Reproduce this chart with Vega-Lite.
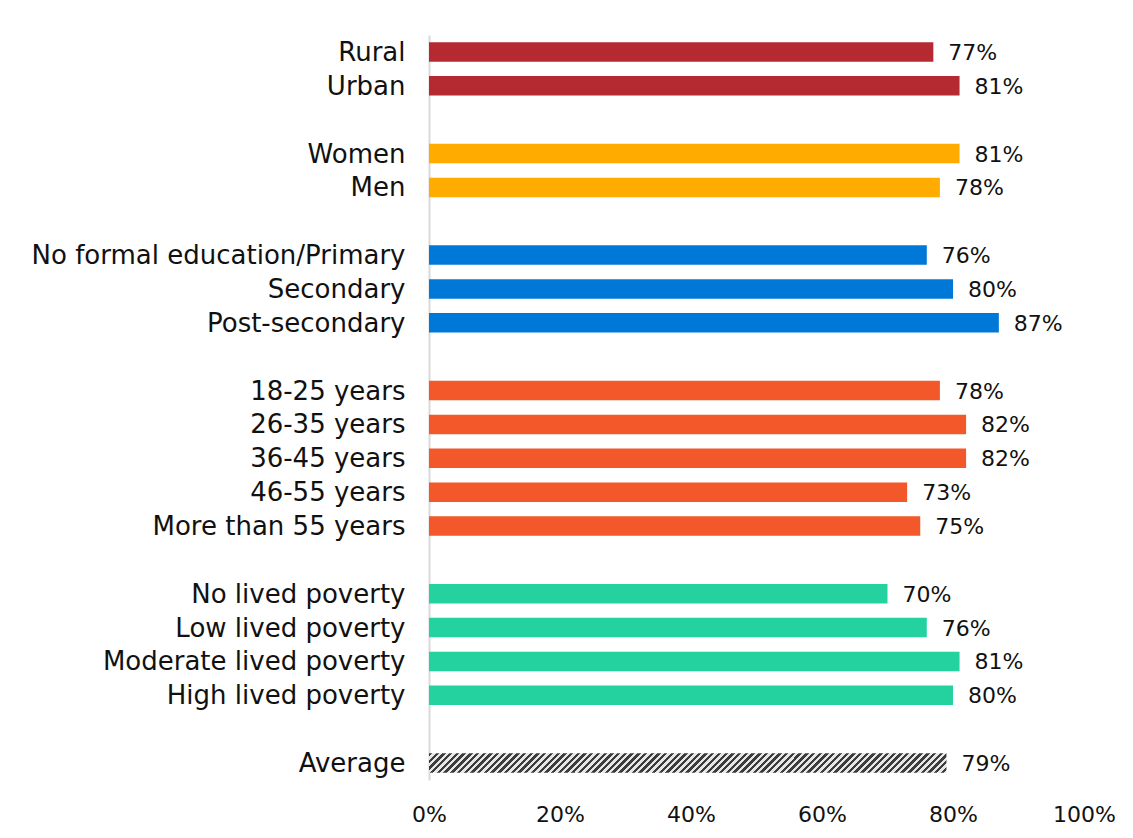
{
  "$schema": "https://vega.github.io/schema/vega-lite/v6.json",
  "width": 655,
  "height": 745,
  "autosize": {"type": "none"},
  "padding": {"left": 429, "top": 35, "right": 49, "bottom": 58},
  "background": "#ffffff",
  "config": {
    "view": {"stroke": null},
    "font": "DejaVu Sans"
  },
  "data": {
    "values": [
      {"label": "Rural", "group": "Location", "value": 0.77},
      {"label": "Urban", "group": "Location", "value": 0.81},
      {"label": "Women", "group": "Gender", "value": 0.81},
      {"label": "Men", "group": "Gender", "value": 0.78},
      {"label": "No formal education/Primary", "group": "Education", "value": 0.76},
      {"label": "Secondary", "group": "Education", "value": 0.80},
      {"label": "Post-secondary", "group": "Education", "value": 0.87},
      {"label": "18-25 years", "group": "Age", "value": 0.78},
      {"label": "26-35 years", "group": "Age", "value": 0.82},
      {"label": "36-45 years", "group": "Age", "value": 0.82},
      {"label": "46-55 years", "group": "Age", "value": 0.73},
      {"label": "More than 55 years", "group": "Age", "value": 0.75},
      {"label": "No lived poverty", "group": "Poverty", "value": 0.70},
      {"label": "Low lived poverty", "group": "Poverty", "value": 0.76},
      {"label": "Moderate lived poverty", "group": "Poverty", "value": 0.81},
      {"label": "High lived poverty", "group": "Poverty", "value": 0.80},
      {"label": "Average", "group": "Average", "value": 0.79}
    ]
  },
  "encoding": {
    "y": {
      "field": "label",
      "type": "nominal",
      "title": null,
      "scale": {
        "domain": ["Rural", "Urban", " ", "Women", "Men", "  ", "No formal education/Primary", "Secondary", "Post-secondary", "   ", "18-25 years", "26-35 years", "36-45 years", "46-55 years", "More than 55 years", "    ", "No lived poverty", "Low lived poverty", "Moderate lived poverty", "High lived poverty", "     ", "Average"],
        "paddingInner": 0.424,
        "paddingOuter": 0.212
      },
      "axis": {
        "ticks": false,
        "domainColor": "#d9d9d9",
        "domainWidth": 2,
        "labelFont": "DejaVu Sans",
        "labelFontSize": 26,
        "labelColor": "#111111",
        "labelPadding": 24,
        "labelLimit": 420,
        "labelOffset": 1
      }
    },
    "x": {
      "field": "value",
      "type": "quantitative",
      "title": null,
      "scale": {"domain": [0, 1], "nice": false},
      "axis": {
        "format": ".0%",
        "values": [0, 0.2, 0.4, 0.6, 0.8, 1],
        "domain": false,
        "ticks": false,
        "grid": false,
        "labelFont": "DejaVu Sans",
        "labelFontSize": 22,
        "labelColor": "#111111",
        "labelPadding": 24,
        "labelFlush": false
      }
    }
  },
  "layer": [
    {
      "transform": [{"filter": "datum.group !== 'Average'"}],
      "mark": {"type": "bar"},
      "encoding": {
        "color": {
          "field": "group",
          "type": "nominal",
          "legend": null,
          "scale": {
            "domain": ["Location", "Gender", "Education", "Age", "Poverty"],
            "range": ["#b42a30", "#ffab00", "#0078d7", "#f2582a", "#24d2a0"]
          }
        }
      }
    },
    {
      "transform": [{"filter": "datum.group === 'Average'"}],
      "mark": {
        "type": "bar",
        "color": {
          "gradient": "linear",
          "x1": 0, "y1": 0, "x2": 1.0377, "y2": 0.0391,
          "stops": [
            {"offset":0,"color":"#3c3c3c"},
            {"offset":0.00625,"color":"#3c3c3c"},{"offset":0.00625,"color":"#e6e6e6"},
            {"offset":0.0125,"color":"#e6e6e6"},{"offset":0.0125,"color":"#3c3c3c"},
            {"offset":0.01875,"color":"#3c3c3c"},{"offset":0.01875,"color":"#e6e6e6"},
            {"offset":0.025,"color":"#e6e6e6"},{"offset":0.025,"color":"#3c3c3c"},
            {"offset":0.03125,"color":"#3c3c3c"},{"offset":0.03125,"color":"#e6e6e6"},
            {"offset":0.0375,"color":"#e6e6e6"},{"offset":0.0375,"color":"#3c3c3c"},
            {"offset":0.04375,"color":"#3c3c3c"},{"offset":0.04375,"color":"#e6e6e6"},
            {"offset":0.05,"color":"#e6e6e6"},{"offset":0.05,"color":"#3c3c3c"},
            {"offset":0.05625,"color":"#3c3c3c"},{"offset":0.05625,"color":"#e6e6e6"},
            {"offset":0.0625,"color":"#e6e6e6"},{"offset":0.0625,"color":"#3c3c3c"},
            {"offset":0.06875,"color":"#3c3c3c"},{"offset":0.06875,"color":"#e6e6e6"},
            {"offset":0.075,"color":"#e6e6e6"},{"offset":0.075,"color":"#3c3c3c"},
            {"offset":0.08125,"color":"#3c3c3c"},{"offset":0.08125,"color":"#e6e6e6"},
            {"offset":0.0875,"color":"#e6e6e6"},{"offset":0.0875,"color":"#3c3c3c"},
            {"offset":0.09375,"color":"#3c3c3c"},{"offset":0.09375,"color":"#e6e6e6"},
            {"offset":0.1,"color":"#e6e6e6"},{"offset":0.1,"color":"#3c3c3c"},
            {"offset":0.10625,"color":"#3c3c3c"},{"offset":0.10625,"color":"#e6e6e6"},
            {"offset":0.1125,"color":"#e6e6e6"},{"offset":0.1125,"color":"#3c3c3c"},
            {"offset":0.11875,"color":"#3c3c3c"},{"offset":0.11875,"color":"#e6e6e6"},
            {"offset":0.125,"color":"#e6e6e6"},{"offset":0.125,"color":"#3c3c3c"},
            {"offset":0.13125,"color":"#3c3c3c"},{"offset":0.13125,"color":"#e6e6e6"},
            {"offset":0.1375,"color":"#e6e6e6"},{"offset":0.1375,"color":"#3c3c3c"},
            {"offset":0.14375,"color":"#3c3c3c"},{"offset":0.14375,"color":"#e6e6e6"},
            {"offset":0.15,"color":"#e6e6e6"},{"offset":0.15,"color":"#3c3c3c"},
            {"offset":0.15625,"color":"#3c3c3c"},{"offset":0.15625,"color":"#e6e6e6"},
            {"offset":0.1625,"color":"#e6e6e6"},{"offset":0.1625,"color":"#3c3c3c"},
            {"offset":0.16875,"color":"#3c3c3c"},{"offset":0.16875,"color":"#e6e6e6"},
            {"offset":0.175,"color":"#e6e6e6"},{"offset":0.175,"color":"#3c3c3c"},
            {"offset":0.18125,"color":"#3c3c3c"},{"offset":0.18125,"color":"#e6e6e6"},
            {"offset":0.1875,"color":"#e6e6e6"},{"offset":0.1875,"color":"#3c3c3c"},
            {"offset":0.19375,"color":"#3c3c3c"},{"offset":0.19375,"color":"#e6e6e6"},
            {"offset":0.2,"color":"#e6e6e6"},{"offset":0.2,"color":"#3c3c3c"},
            {"offset":0.20625,"color":"#3c3c3c"},{"offset":0.20625,"color":"#e6e6e6"},
            {"offset":0.2125,"color":"#e6e6e6"},{"offset":0.2125,"color":"#3c3c3c"},
            {"offset":0.21875,"color":"#3c3c3c"},{"offset":0.21875,"color":"#e6e6e6"},
            {"offset":0.225,"color":"#e6e6e6"},{"offset":0.225,"color":"#3c3c3c"},
            {"offset":0.23125,"color":"#3c3c3c"},{"offset":0.23125,"color":"#e6e6e6"},
            {"offset":0.2375,"color":"#e6e6e6"},{"offset":0.2375,"color":"#3c3c3c"},
            {"offset":0.24375,"color":"#3c3c3c"},{"offset":0.24375,"color":"#e6e6e6"},
            {"offset":0.25,"color":"#e6e6e6"},{"offset":0.25,"color":"#3c3c3c"},
            {"offset":0.25625,"color":"#3c3c3c"},{"offset":0.25625,"color":"#e6e6e6"},
            {"offset":0.2625,"color":"#e6e6e6"},{"offset":0.2625,"color":"#3c3c3c"},
            {"offset":0.26875,"color":"#3c3c3c"},{"offset":0.26875,"color":"#e6e6e6"},
            {"offset":0.275,"color":"#e6e6e6"},{"offset":0.275,"color":"#3c3c3c"},
            {"offset":0.28125,"color":"#3c3c3c"},{"offset":0.28125,"color":"#e6e6e6"},
            {"offset":0.2875,"color":"#e6e6e6"},{"offset":0.2875,"color":"#3c3c3c"},
            {"offset":0.29375,"color":"#3c3c3c"},{"offset":0.29375,"color":"#e6e6e6"},
            {"offset":0.3,"color":"#e6e6e6"},{"offset":0.3,"color":"#3c3c3c"},
            {"offset":0.30625,"color":"#3c3c3c"},{"offset":0.30625,"color":"#e6e6e6"},
            {"offset":0.3125,"color":"#e6e6e6"},{"offset":0.3125,"color":"#3c3c3c"},
            {"offset":0.31875,"color":"#3c3c3c"},{"offset":0.31875,"color":"#e6e6e6"},
            {"offset":0.325,"color":"#e6e6e6"},{"offset":0.325,"color":"#3c3c3c"},
            {"offset":0.33125,"color":"#3c3c3c"},{"offset":0.33125,"color":"#e6e6e6"},
            {"offset":0.3375,"color":"#e6e6e6"},{"offset":0.3375,"color":"#3c3c3c"},
            {"offset":0.34375,"color":"#3c3c3c"},{"offset":0.34375,"color":"#e6e6e6"},
            {"offset":0.35,"color":"#e6e6e6"},{"offset":0.35,"color":"#3c3c3c"},
            {"offset":0.35625,"color":"#3c3c3c"},{"offset":0.35625,"color":"#e6e6e6"},
            {"offset":0.3625,"color":"#e6e6e6"},{"offset":0.3625,"color":"#3c3c3c"},
            {"offset":0.36875,"color":"#3c3c3c"},{"offset":0.36875,"color":"#e6e6e6"},
            {"offset":0.375,"color":"#e6e6e6"},{"offset":0.375,"color":"#3c3c3c"},
            {"offset":0.38125,"color":"#3c3c3c"},{"offset":0.38125,"color":"#e6e6e6"},
            {"offset":0.3875,"color":"#e6e6e6"},{"offset":0.3875,"color":"#3c3c3c"},
            {"offset":0.39375,"color":"#3c3c3c"},{"offset":0.39375,"color":"#e6e6e6"},
            {"offset":0.4,"color":"#e6e6e6"},{"offset":0.4,"color":"#3c3c3c"},
            {"offset":0.40625,"color":"#3c3c3c"},{"offset":0.40625,"color":"#e6e6e6"},
            {"offset":0.4125,"color":"#e6e6e6"},{"offset":0.4125,"color":"#3c3c3c"},
            {"offset":0.41875,"color":"#3c3c3c"},{"offset":0.41875,"color":"#e6e6e6"},
            {"offset":0.425,"color":"#e6e6e6"},{"offset":0.425,"color":"#3c3c3c"},
            {"offset":0.43125,"color":"#3c3c3c"},{"offset":0.43125,"color":"#e6e6e6"},
            {"offset":0.4375,"color":"#e6e6e6"},{"offset":0.4375,"color":"#3c3c3c"},
            {"offset":0.44375,"color":"#3c3c3c"},{"offset":0.44375,"color":"#e6e6e6"},
            {"offset":0.45,"color":"#e6e6e6"},{"offset":0.45,"color":"#3c3c3c"},
            {"offset":0.45625,"color":"#3c3c3c"},{"offset":0.45625,"color":"#e6e6e6"},
            {"offset":0.4625,"color":"#e6e6e6"},{"offset":0.4625,"color":"#3c3c3c"},
            {"offset":0.46875,"color":"#3c3c3c"},{"offset":0.46875,"color":"#e6e6e6"},
            {"offset":0.475,"color":"#e6e6e6"},{"offset":0.475,"color":"#3c3c3c"},
            {"offset":0.48125,"color":"#3c3c3c"},{"offset":0.48125,"color":"#e6e6e6"},
            {"offset":0.4875,"color":"#e6e6e6"},{"offset":0.4875,"color":"#3c3c3c"},
            {"offset":0.49375,"color":"#3c3c3c"},{"offset":0.49375,"color":"#e6e6e6"},
            {"offset":0.5,"color":"#e6e6e6"},{"offset":0.5,"color":"#3c3c3c"},
            {"offset":0.50625,"color":"#3c3c3c"},{"offset":0.50625,"color":"#e6e6e6"},
            {"offset":0.5125,"color":"#e6e6e6"},{"offset":0.5125,"color":"#3c3c3c"},
            {"offset":0.51875,"color":"#3c3c3c"},{"offset":0.51875,"color":"#e6e6e6"},
            {"offset":0.525,"color":"#e6e6e6"},{"offset":0.525,"color":"#3c3c3c"},
            {"offset":0.53125,"color":"#3c3c3c"},{"offset":0.53125,"color":"#e6e6e6"},
            {"offset":0.5375,"color":"#e6e6e6"},{"offset":0.5375,"color":"#3c3c3c"},
            {"offset":0.54375,"color":"#3c3c3c"},{"offset":0.54375,"color":"#e6e6e6"},
            {"offset":0.55,"color":"#e6e6e6"},{"offset":0.55,"color":"#3c3c3c"},
            {"offset":0.55625,"color":"#3c3c3c"},{"offset":0.55625,"color":"#e6e6e6"},
            {"offset":0.5625,"color":"#e6e6e6"},{"offset":0.5625,"color":"#3c3c3c"},
            {"offset":0.56875,"color":"#3c3c3c"},{"offset":0.56875,"color":"#e6e6e6"},
            {"offset":0.575,"color":"#e6e6e6"},{"offset":0.575,"color":"#3c3c3c"},
            {"offset":0.58125,"color":"#3c3c3c"},{"offset":0.58125,"color":"#e6e6e6"},
            {"offset":0.5875,"color":"#e6e6e6"},{"offset":0.5875,"color":"#3c3c3c"},
            {"offset":0.59375,"color":"#3c3c3c"},{"offset":0.59375,"color":"#e6e6e6"},
            {"offset":0.6,"color":"#e6e6e6"},{"offset":0.6,"color":"#3c3c3c"},
            {"offset":0.60625,"color":"#3c3c3c"},{"offset":0.60625,"color":"#e6e6e6"},
            {"offset":0.6125,"color":"#e6e6e6"},{"offset":0.6125,"color":"#3c3c3c"},
            {"offset":0.61875,"color":"#3c3c3c"},{"offset":0.61875,"color":"#e6e6e6"},
            {"offset":0.625,"color":"#e6e6e6"},{"offset":0.625,"color":"#3c3c3c"},
            {"offset":0.63125,"color":"#3c3c3c"},{"offset":0.63125,"color":"#e6e6e6"},
            {"offset":0.6375,"color":"#e6e6e6"},{"offset":0.6375,"color":"#3c3c3c"},
            {"offset":0.64375,"color":"#3c3c3c"},{"offset":0.64375,"color":"#e6e6e6"},
            {"offset":0.65,"color":"#e6e6e6"},{"offset":0.65,"color":"#3c3c3c"},
            {"offset":0.65625,"color":"#3c3c3c"},{"offset":0.65625,"color":"#e6e6e6"},
            {"offset":0.6625,"color":"#e6e6e6"},{"offset":0.6625,"color":"#3c3c3c"},
            {"offset":0.66875,"color":"#3c3c3c"},{"offset":0.66875,"color":"#e6e6e6"},
            {"offset":0.675,"color":"#e6e6e6"},{"offset":0.675,"color":"#3c3c3c"},
            {"offset":0.68125,"color":"#3c3c3c"},{"offset":0.68125,"color":"#e6e6e6"},
            {"offset":0.6875,"color":"#e6e6e6"},{"offset":0.6875,"color":"#3c3c3c"},
            {"offset":0.69375,"color":"#3c3c3c"},{"offset":0.69375,"color":"#e6e6e6"},
            {"offset":0.7,"color":"#e6e6e6"},{"offset":0.7,"color":"#3c3c3c"},
            {"offset":0.70625,"color":"#3c3c3c"},{"offset":0.70625,"color":"#e6e6e6"},
            {"offset":0.7125,"color":"#e6e6e6"},{"offset":0.7125,"color":"#3c3c3c"},
            {"offset":0.71875,"color":"#3c3c3c"},{"offset":0.71875,"color":"#e6e6e6"},
            {"offset":0.725,"color":"#e6e6e6"},{"offset":0.725,"color":"#3c3c3c"},
            {"offset":0.73125,"color":"#3c3c3c"},{"offset":0.73125,"color":"#e6e6e6"},
            {"offset":0.7375,"color":"#e6e6e6"},{"offset":0.7375,"color":"#3c3c3c"},
            {"offset":0.74375,"color":"#3c3c3c"},{"offset":0.74375,"color":"#e6e6e6"},
            {"offset":0.75,"color":"#e6e6e6"},{"offset":0.75,"color":"#3c3c3c"},
            {"offset":0.75625,"color":"#3c3c3c"},{"offset":0.75625,"color":"#e6e6e6"},
            {"offset":0.7625,"color":"#e6e6e6"},{"offset":0.7625,"color":"#3c3c3c"},
            {"offset":0.76875,"color":"#3c3c3c"},{"offset":0.76875,"color":"#e6e6e6"},
            {"offset":0.775,"color":"#e6e6e6"},{"offset":0.775,"color":"#3c3c3c"},
            {"offset":0.78125,"color":"#3c3c3c"},{"offset":0.78125,"color":"#e6e6e6"},
            {"offset":0.7875,"color":"#e6e6e6"},{"offset":0.7875,"color":"#3c3c3c"},
            {"offset":0.79375,"color":"#3c3c3c"},{"offset":0.79375,"color":"#e6e6e6"},
            {"offset":0.8,"color":"#e6e6e6"},{"offset":0.8,"color":"#3c3c3c"},
            {"offset":0.80625,"color":"#3c3c3c"},{"offset":0.80625,"color":"#e6e6e6"},
            {"offset":0.8125,"color":"#e6e6e6"},{"offset":0.8125,"color":"#3c3c3c"},
            {"offset":0.81875,"color":"#3c3c3c"},{"offset":0.81875,"color":"#e6e6e6"},
            {"offset":0.825,"color":"#e6e6e6"},{"offset":0.825,"color":"#3c3c3c"},
            {"offset":0.83125,"color":"#3c3c3c"},{"offset":0.83125,"color":"#e6e6e6"},
            {"offset":0.8375,"color":"#e6e6e6"},{"offset":0.8375,"color":"#3c3c3c"},
            {"offset":0.84375,"color":"#3c3c3c"},{"offset":0.84375,"color":"#e6e6e6"},
            {"offset":0.85,"color":"#e6e6e6"},{"offset":0.85,"color":"#3c3c3c"},
            {"offset":0.85625,"color":"#3c3c3c"},{"offset":0.85625,"color":"#e6e6e6"},
            {"offset":0.8625,"color":"#e6e6e6"},{"offset":0.8625,"color":"#3c3c3c"},
            {"offset":0.86875,"color":"#3c3c3c"},{"offset":0.86875,"color":"#e6e6e6"},
            {"offset":0.875,"color":"#e6e6e6"},{"offset":0.875,"color":"#3c3c3c"},
            {"offset":0.88125,"color":"#3c3c3c"},{"offset":0.88125,"color":"#e6e6e6"},
            {"offset":0.8875,"color":"#e6e6e6"},{"offset":0.8875,"color":"#3c3c3c"},
            {"offset":0.89375,"color":"#3c3c3c"},{"offset":0.89375,"color":"#e6e6e6"},
            {"offset":0.9,"color":"#e6e6e6"},{"offset":0.9,"color":"#3c3c3c"},
            {"offset":0.90625,"color":"#3c3c3c"},{"offset":0.90625,"color":"#e6e6e6"},
            {"offset":0.9125,"color":"#e6e6e6"},{"offset":0.9125,"color":"#3c3c3c"},
            {"offset":0.91875,"color":"#3c3c3c"},{"offset":0.91875,"color":"#e6e6e6"},
            {"offset":0.925,"color":"#e6e6e6"},{"offset":0.925,"color":"#3c3c3c"},
            {"offset":0.93125,"color":"#3c3c3c"},{"offset":0.93125,"color":"#e6e6e6"},
            {"offset":0.9375,"color":"#e6e6e6"},{"offset":0.9375,"color":"#3c3c3c"},
            {"offset":0.94375,"color":"#3c3c3c"},{"offset":0.94375,"color":"#e6e6e6"},
            {"offset":0.95,"color":"#e6e6e6"},{"offset":0.95,"color":"#3c3c3c"},
            {"offset":0.95625,"color":"#3c3c3c"},{"offset":0.95625,"color":"#e6e6e6"},
            {"offset":0.9625,"color":"#e6e6e6"},{"offset":0.9625,"color":"#3c3c3c"},
            {"offset":0.96875,"color":"#3c3c3c"},{"offset":0.96875,"color":"#e6e6e6"},
            {"offset":0.975,"color":"#e6e6e6"},{"offset":0.975,"color":"#3c3c3c"},
            {"offset":0.98125,"color":"#3c3c3c"},{"offset":0.98125,"color":"#e6e6e6"},
            {"offset":0.9875,"color":"#e6e6e6"},{"offset":0.9875,"color":"#3c3c3c"},
            {"offset":0.99375,"color":"#3c3c3c"},{"offset":0.99375,"color":"#e6e6e6"},
            {"offset":1,"color":"#e6e6e6"}
          ]
        }
      }
    },
    {
      "mark": {
        "type": "text",
        "align": "left",
        "baseline": "middle",
        "dx": 15,
        "dy": 1,
        "font": "DejaVu Sans",
        "fontSize": 22,
        "color": "#111111"
      },
      "encoding": {
        "text": {"field": "value", "type": "quantitative", "format": ".0%"}
      }
    }
  ]
}
